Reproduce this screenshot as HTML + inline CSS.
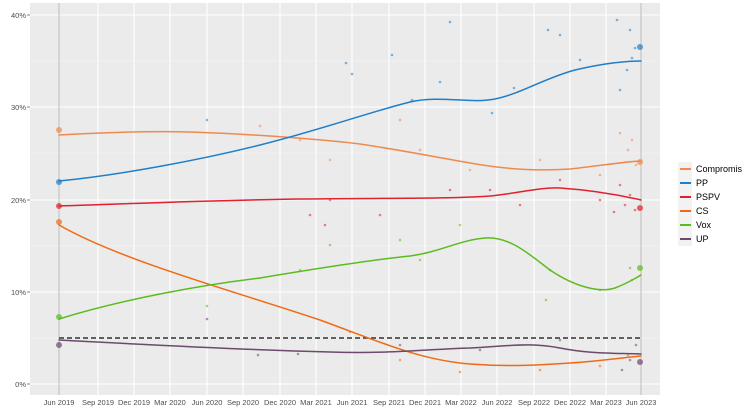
<!DOCTYPE html>
<html><head><meta charset="utf-8"><style>body{margin:0;background:#fff}svg{display:block;font-family:"Liberation Sans",sans-serif}</style></head><body>
<svg width="750" height="417" viewBox="0 0 750 417">
<rect x="30" y="3" width="630" height="392" fill="#ebebeb"/>
<g stroke="#f5f5f5" stroke-width="0.6">
<line x1="30" x2="660" y1="338" y2="338"/><line x1="30" x2="660" y1="246" y2="246"/><line x1="30" x2="660" y1="153" y2="153"/><line x1="30" x2="660" y1="61" y2="61"/>
</g>
<g stroke="#fff" stroke-width="1.1">
<line x1="30" x2="660" y1="384" y2="384"/><line x1="30" x2="660" y1="292" y2="292"/><line x1="30" x2="660" y1="200" y2="200"/><line x1="30" x2="660" y1="107" y2="107"/><line x1="30" x2="660" y1="15" y2="15"/>
<line x1="59" x2="59" y1="3" y2="395"/><line x1="98" x2="98" y1="3" y2="395"/><line x1="134" x2="134" y1="3" y2="395"/><line x1="170" x2="170" y1="3" y2="395"/><line x1="207" x2="207" y1="3" y2="395"/><line x1="243" x2="243" y1="3" y2="395"/><line x1="280" x2="280" y1="3" y2="395"/><line x1="316" x2="316" y1="3" y2="395"/><line x1="352" x2="352" y1="3" y2="395"/><line x1="389" x2="389" y1="3" y2="395"/><line x1="425" x2="425" y1="3" y2="395"/><line x1="461" x2="461" y1="3" y2="395"/><line x1="497" x2="497" y1="3" y2="395"/><line x1="534" x2="534" y1="3" y2="395"/><line x1="570" x2="570" y1="3" y2="395"/><line x1="606" x2="606" y1="3" y2="395"/><line x1="641" x2="641" y1="3" y2="395"/>
</g>
<line x1="59" x2="59" y1="3" y2="395" stroke="#bbb" stroke-width="1"/>
<line x1="641" x2="641" y1="3" y2="395" stroke="#bbb" stroke-width="1"/>
<g opacity="0.55">
<g fill="#1f7ec8"><circle cx="346" cy="63" r="1.3"/><circle cx="352" cy="74" r="1.3"/><circle cx="392" cy="55" r="1.3"/><circle cx="450" cy="22" r="1.3"/><circle cx="548" cy="30" r="1.3"/><circle cx="617" cy="20" r="1.3"/><circle cx="630" cy="30" r="1.3"/><circle cx="440" cy="82" r="1.3"/><circle cx="492" cy="113" r="1.3"/><circle cx="580" cy="60" r="1.3"/><circle cx="635" cy="48" r="1.3"/><circle cx="560" cy="35" r="1.3"/><circle cx="207" cy="120" r="1.3"/><circle cx="620" cy="90" r="1.3"/><circle cx="627" cy="70" r="1.3"/><circle cx="632" cy="58" r="1.3"/><circle cx="412" cy="100" r="1.3"/><circle cx="514" cy="88" r="1.3"/></g>
<g fill="#ee8a4f"><circle cx="260" cy="126" r="1.3"/><circle cx="330" cy="160" r="1.3"/><circle cx="400" cy="120" r="1.3"/><circle cx="470" cy="170" r="1.3"/><circle cx="540" cy="160" r="1.3"/><circle cx="600" cy="175" r="1.3"/><circle cx="628" cy="150" r="1.3"/><circle cx="636" cy="165" r="1.3"/><circle cx="632" cy="140" r="1.3"/><circle cx="620" cy="133" r="1.3"/><circle cx="300" cy="140" r="1.3"/><circle cx="420" cy="150" r="1.3"/></g>
<g fill="#e2202e"><circle cx="330" cy="200" r="1.3"/><circle cx="380" cy="215" r="1.3"/><circle cx="450" cy="190" r="1.3"/><circle cx="520" cy="205" r="1.3"/><circle cx="600" cy="200" r="1.3"/><circle cx="625" cy="205" r="1.3"/><circle cx="635" cy="210" r="1.3"/><circle cx="310" cy="215" r="1.3"/><circle cx="620" cy="185" r="1.3"/><circle cx="630" cy="195" r="1.3"/><circle cx="614" cy="212" r="1.3"/><circle cx="560" cy="180" r="1.3"/><circle cx="490" cy="190" r="1.3"/><circle cx="325" cy="225" r="1.3"/></g>
<g fill="#5cbb1e"><circle cx="207" cy="306" r="1.3"/><circle cx="330" cy="245" r="1.3"/><circle cx="400" cy="240" r="1.3"/><circle cx="460" cy="225" r="1.3"/><circle cx="550" cy="270" r="1.3"/><circle cx="600" cy="290" r="1.3"/><circle cx="632" cy="280" r="1.3"/><circle cx="300" cy="270" r="1.3"/><circle cx="546" cy="300" r="1.3"/><circle cx="630" cy="268" r="1.3"/><circle cx="420" cy="260" r="1.3"/></g>
<g fill="#6b4a6b"><circle cx="207" cy="319" r="1.3"/><circle cx="258" cy="355" r="1.3"/><circle cx="298" cy="354" r="1.3"/><circle cx="400" cy="345" r="1.3"/><circle cx="480" cy="350" r="1.3"/><circle cx="560" cy="340" r="1.3"/><circle cx="630" cy="360" r="1.3"/><circle cx="622" cy="370" r="1.3"/><circle cx="636" cy="345" r="1.3"/></g>
<g fill="#f06a16"><circle cx="400" cy="360" r="1.3"/><circle cx="460" cy="372" r="1.3"/><circle cx="540" cy="370" r="1.3"/><circle cx="600" cy="366" r="1.3"/><circle cx="350" cy="332" r="1.3"/><circle cx="628" cy="355" r="1.3"/></g>
</g>
<line x1="59" x2="641" y1="338" y2="338" stroke="#333" stroke-width="1.6" stroke-dasharray="5,3"/>
<g fill="none" stroke-width="1.5" stroke-linecap="round">
<path stroke="#ee8a4f" d="M59,135 C110,132 150,131 190,132 C250,134 320,139 360,144 C400,150 430,156 470,163 C510,170 540,171 570,169 C600,166 620,162 641,161"/>
<path stroke="#1f7ec8" d="M59,181 C120,175 200,160 260,145 C320,130 370,112 410,102 C440,95 470,104 495,99 C520,94 545,78 575,70 C600,64 620,61 641,61"/>
<path stroke="#e2202e" d="M59,206 C150,203 220,200 300,199 C380,198 450,199 490,196 C520,193 540,187 560,188 C590,190 615,194 641,200"/>
<path stroke="#f06a16" d="M59,225 C120,260 230,290 320,320 C380,342 420,360 470,364 C510,367 540,365 570,363 C600,361 620,358 641,356"/>
<path stroke="#5cbb1e" d="M59,319 C120,300 200,285 260,278 C320,268 370,260 410,256 C440,252 460,240 485,238 C510,236 530,255 550,270 C575,287 600,293 615,288 C628,283 636,278 641,275"/>
<path stroke="#6b4a6b" d="M59,340 C150,345 250,350 330,352 C390,354 430,349 470,348 C510,346 530,342 560,348 C590,354 615,353 641,354"/>
</g>
<g opacity="0.7">
<circle cx="59" cy="130" r="3" fill="#ee8a4f"/><circle cx="59" cy="182" r="3" fill="#1f7ec8"/><circle cx="59" cy="206" r="3" fill="#e2202e"/><circle cx="59" cy="222" r="3" fill="#f06a16"/><circle cx="59" cy="317" r="3" fill="#5cbb1e"/><circle cx="59" cy="345" r="3" fill="#6b4a6b"/>
<circle cx="640" cy="47" r="3" fill="#1f7ec8"/><circle cx="640" cy="162" r="3" fill="#ee8a4f"/><circle cx="640" cy="208" r="3" fill="#e2202e"/><circle cx="640" cy="268" r="3" fill="#5cbb1e"/><circle cx="640" cy="362" r="3" fill="#6b4a6b"/>
</g>
<g font-size="7.5" fill="#4d4d4d" text-anchor="end">
<text x="26" y="387">0%</text><text x="26" y="295">10%</text><text x="26" y="203">20%</text><text x="26" y="110">30%</text><text x="26" y="18">40%</text>
</g>
<g stroke="#333" stroke-width="0.6">
<line x1="27" x2="30" y1="384" y2="384"/><line x1="27" x2="30" y1="292" y2="292"/><line x1="27" x2="30" y1="200" y2="200"/><line x1="27" x2="30" y1="107" y2="107"/><line x1="27" x2="30" y1="15" y2="15"/>
</g>
<g font-size="7.5" fill="#4d4d4d" text-anchor="middle">
<text x="59" y="405">Jun 2019</text><text x="98" y="405">Sep 2019</text><text x="134" y="405">Dec 2019</text><text x="170" y="405">Mar 2020</text><text x="207" y="405">Jun 2020</text><text x="243" y="405">Sep 2020</text><text x="280" y="405">Dec 2020</text><text x="316" y="405">Mar 2021</text><text x="352" y="405">Jun 2021</text><text x="389" y="405">Sep 2021</text><text x="425" y="405">Dec 2021</text><text x="461" y="405">Mar 2022</text><text x="497" y="405">Jun 2022</text><text x="534" y="405">Sep 2022</text><text x="570" y="405">Dec 2022</text><text x="606" y="405">Mar 2023</text><text x="641" y="405">Jun 2023</text>
</g>
<rect x="678" y="162" width="14" height="84" fill="#f2f2f2"/>
<g stroke-width="2">
<line x1="680" x2="691" y1="169" y2="169" stroke="#ee8a4f"/><line x1="680" x2="691" y1="183" y2="183" stroke="#1f7ec8"/><line x1="680" x2="691" y1="197" y2="197" stroke="#e2202e"/><line x1="680" x2="691" y1="211" y2="211" stroke="#f06a16"/><line x1="680" x2="691" y1="225" y2="225" stroke="#5cbb1e"/><line x1="680" x2="691" y1="239" y2="239" stroke="#6b4a6b"/>
</g>
<g font-size="9" fill="#000">
<text x="696" y="172">Compromis</text><text x="696" y="186">PP</text><text x="696" y="200">PSPV</text><text x="696" y="214">CS</text><text x="696" y="228">Vox</text><text x="696" y="242">UP</text>
</g>
</svg>
</body></html>
